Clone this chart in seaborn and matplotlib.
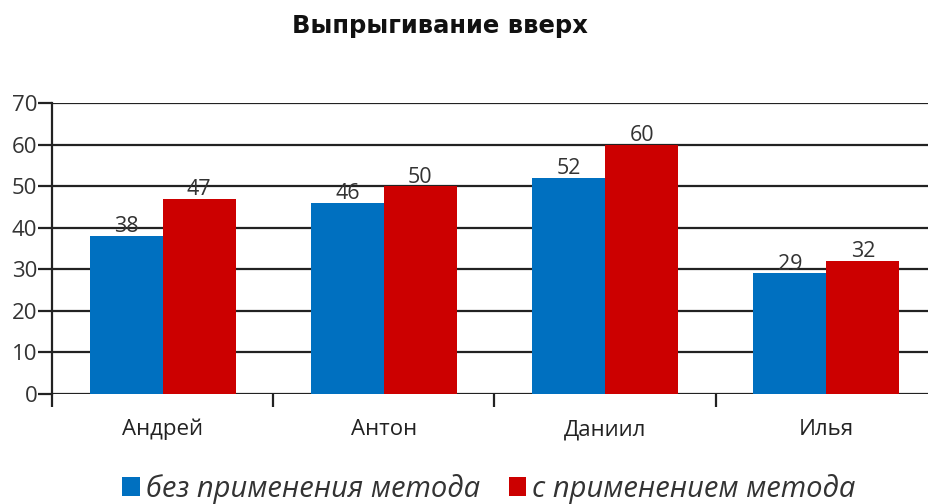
import matplotlib
matplotlib.use("Agg")
import matplotlib.pyplot as plt
import seaborn as sns
import pandas as pd
from matplotlib.patches import Patch

# Data
names = ["Андрей", "Антон", "Даниил", "Илья"]
without_method = [38, 46, 52, 29]
with_method = [47, 50, 60, 32]
series_labels = ["без применения метода", "с применением метода"]
y_ticks = [0, 10, 20, 30, 40, 50, 60, 70]
title = "Выпрыгивание вверх"

colors = ["#0070C0", "#CC0000"]

df = pd.DataFrame({
    "name": names * 2,
    "value": without_method + with_method,
    "series": [series_labels[0]] * len(names) + [series_labels[1]] * len(names),
})

sns.set_theme(style="white")
plt.rcParams["font.family"] = ["Open Sans", "DejaVu Sans"]

fig = plt.figure(figsize=(9.29, 5.04), dpi=100)
ax = fig.add_axes([52 / 929, (504 - 394) / 504, 885 / 929, 291 / 504])

sns.barplot(data=df, x="name", y="value", hue="series", order=names,
            hue_order=series_labels, palette=colors, width=0.66,
            saturation=1, ax=ax, legend=False, edgecolor="none")

ax.set_ylim(0, 70)
ax.set_xlim(-0.5, 3.5)
ax.set_yticks(y_ticks)
ax.yaxis.grid(True, color="#222222", linewidth=1.6)
ax.set_axisbelow(True)
for s in ["top", "right", "bottom"]:
    ax.spines[s].set_visible(False)
ax.spines["left"].set_color("#222222")
ax.spines["left"].set_linewidth(1.6)

ax.tick_params(axis="y", which="major", length=10, width=1.6, color="#222222",
               left=True, labelsize=16, labelcolor="#333333", pad=0.5)
ax.set_xticks([-0.5, 0.5, 1.5, 2.5, 3.5], minor=True)
ax.tick_params(axis="x", which="minor", length=9, width=1.6, color="#222222", bottom=True)
ax.tick_params(axis="x", which="major", length=0, labelsize=16, labelcolor="#222222", pad=18)
ax.set_xlabel("")
ax.set_ylabel("")

for container in ax.containers:
    ax.bar_label(container, fontsize=15.5, color="#333333", padding=-1)

fig.text(440 / 929, 1 - 26 / 504, title, ha="center", va="center",
         fontsize=17.5, fontweight="bold", color="#111111", family="DejaVu Sans")

handles = [Patch(facecolor=c, edgecolor="none") for c in colors]
fig.legend(handles, series_labels, loc="center", bbox_to_anchor=(489 / 929, 1 - 489 / 504),
           ncol=2, frameon=False, prop={"style": "italic", "size": 21},
           handlelength=0.6, handleheight=0.6, handletextpad=0.2, columnspacing=1.0,
           labelcolor="#333333")

fig.savefig("out.png", dpi=100)
